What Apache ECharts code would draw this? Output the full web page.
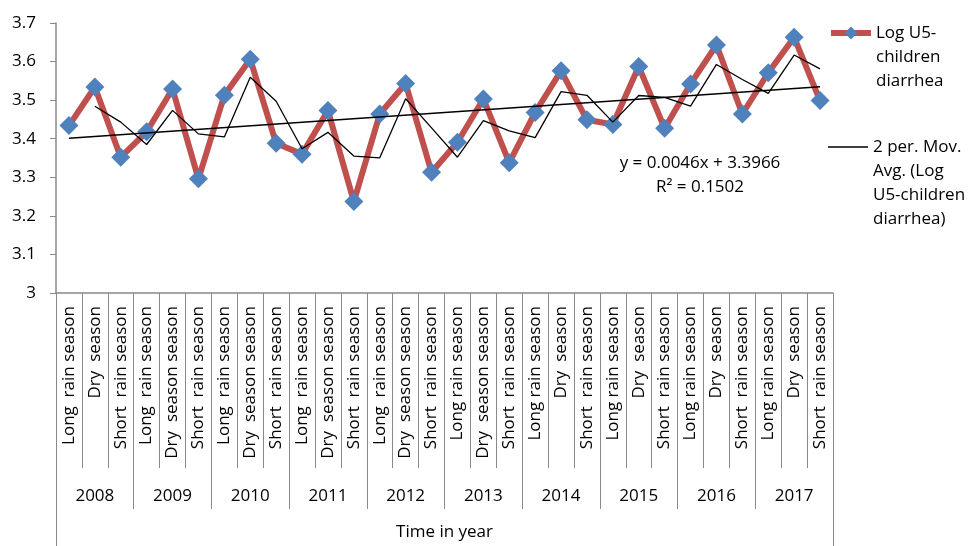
<!DOCTYPE html>
<html>
<head>
<meta charset="utf-8">
<script src="https://cdn.jsdelivr.net/npm/echarts@6/dist/echarts.min.js"></script>
<style>
  html, body { margin: 0; padding: 0; background: #fff; }
  #chart { width: 972px; height: 546px; }
</style>
</head>
<body>
<div id="chart"></div>
<script>
// season labels as they appear under the axis (spacing kept from the original)
var seasons = [
    'Long  rain season', 'Dry  season', 'Short  rain season',
    'Long  rain season', 'Dry  season season', 'Short  rain season',
    'Long  rain season', 'Dry  season season', 'Short  rain season',
    'Long  rain season', 'Dry  season season', 'Short  rain season',
    'Long  rain season', 'Dry  season season', 'Short  rain season',
    'Long rain season', 'Dry  season season', 'Short  rain season',
    'Long rain season', 'Dry  season', 'Short  rain season',
    'Long rain season', 'Dry  season', 'Short  rain season',
    'Long rain season', 'Dry  season', 'Short  rain season',
    'Long rain season', 'Dry  season', 'Short  rain season'
];
var years = ['2008', '2009', '2010', '2011', '2012', '2013', '2014', '2015', '2016', '2017'];

// log of under-5 children diarrhea cases, one value per season
var logU5 = [
    3.434, 3.534, 3.352,
    3.418, 3.529, 3.296,
    3.513, 3.606, 3.388,
    3.360, 3.473, 3.237,
    3.464, 3.543, 3.313,
    3.391, 3.503, 3.338,
    3.468, 3.576, 3.449,
    3.437, 3.587, 3.427,
    3.542, 3.643, 3.464,
    3.571, 3.663, 3.499
];

// linear trend as printed on the chart
var trendSlope = 0.0046;
var trendIntercept = 3.3966;
var trendR2 = 0.1502;

var serName = 'Log U5-children diarrhea';
var maName = '2 per. Mov. Avg. (Log U5-children diarrhea)';
var fontName = '"Open Sans", "Noto Sans", sans-serif';
var axisGray = '#898989';

// 2 period moving average (Excel style, first point empty)
var movAvg = [null];
for (var i = 1; i < logU5.length; i++) {
    movAvg.push(+((logU5[i - 1] + logU5[i]) / 2).toFixed(4));
}
// trend line only needs its two ends
var trendData = [];
for (var i = 0; i < logU5.length; i++) {
    if (i == 0 || i == logU5.length - 1) {
        trendData.push(+(trendSlope * (i + 1) + trendIntercept).toFixed(4));
    } else {
        trendData.push(null);
    }
}

var myChart = echarts.init(document.getElementById('chart'));
var option = {
    animation: false,
    backgroundColor: '#fff',
    textStyle: { fontFamily: fontName },
    grid: {
        left: 56,
        right: 139,
        top: 23,
        bottom: 253,
        containLabel: false,
        outerBoundsMode: 'none'
    },
    legend: [{
        data: [serName],
        orient: 'vertical',
        left: 828,
        top: -27,
        padding: 0,
        itemWidth: 40,
        itemHeight: 16,
        lineStyle: { width: 6, color: '#C0504D' },
        formatter: function () { return '\n\nLog U5-\nchildren\ndiarrhea'; },
        textStyle: { fontSize: 17, lineHeight: 24, color: '#000', fontFamily: fontName }
    }, {
        data: [{ name: maName, icon: 'rect' }],
        orient: 'vertical',
        left: 828,
        top: 63,
        padding: 0,
        itemWidth: 40,
        itemHeight: 1.5,
        formatter: function () { return '\n\n\n2 per. Mov.\nAvg. (Log\nU5-children\ndiarrhea)'; },
        textStyle: { fontSize: 17, lineHeight: 24, color: '#000', fontFamily: fontName }
    }],
    xAxis: [{
        // seasons
        type: 'category',
        position: 'bottom',
        data: seasons,
        boundaryGap: true,
        axisLine: { show: true, lineStyle: { color: axisGray, width: 1.5 } },
        axisTick: { show: true, interval: 0, length: 175, lineStyle: { color: axisGray } },
        axisLabel: {
            interval: 0,
            rotate: 90,
            margin: 13,
            fontSize: 17,
            color: '#000',
            fontFamily: fontName
        },
        splitLine: { show: false }
    }, {
        // years
        type: 'category',
        position: 'bottom',
        data: years,
        boundaryGap: true,
        axisLine: { show: false },
        axisTick: { show: true, interval: 0, length: 216, lineStyle: { color: axisGray } },
        axisLabel: {
            interval: 0,
            margin: 195,
            fontSize: 17,
            color: '#000',
            fontFamily: fontName
        },
        splitLine: { show: false }
    }, {
        // outer frame + axis title
        type: 'category',
        position: 'bottom',
        data: [''],
        boundaryGap: true,
        axisLine: { show: false },
        axisTick: { show: true, length: 253, lineStyle: { color: axisGray } },
        axisLabel: { show: false },
        name: 'Time in year',
        nameLocation: 'middle',
        nameGap: 231,
        nameTextStyle: { fontSize: 17, color: '#000', fontFamily: fontName },
        splitLine: { show: false }
    }],
    yAxis: {
        type: 'value',
        min: 3,
        max: 3.7,
        interval: 0.1,
        axisLine: { show: true, lineStyle: { color: axisGray, width: 1.5 } },
        axisTick: { show: true, length: 6, lineStyle: { color: axisGray } },
        axisLabel: {
            margin: 20,
            fontSize: 17,
            color: '#000',
            fontFamily: fontName,
            formatter: function (v) { return String(+v.toFixed(1)); }
        },
        splitLine: { show: false }
    },
    graphic: [{
        type: 'text',
        x: 700,
        y: 151,
        style: {
            text: 'y = ' + trendSlope + 'x + ' + trendIntercept + '\nR\u00b2 = ' + trendR2,
            align: 'center',
            verticalAlign: 'top',
            fontSize: 17,
            lineHeight: 24,
            fontFamily: fontName,
            fill: '#000'
        }
    }],
    series: [{
        name: serName,
        type: 'line',
        xAxisIndex: 0,
        data: logU5,
        symbol: 'diamond',
        symbolSize: 19,
        lineStyle: { color: '#C0504D', width: 6 },
        itemStyle: { color: '#4F81BD' },
        z: 2
    }, {
        name: maName,
        type: 'line',
        xAxisIndex: 0,
        data: movAvg,
        symbol: 'none',
        lineStyle: { color: '#000', width: 1.3 },
        itemStyle: { color: '#000' },
        z: 3
    }, {
        name: 'Linear (Log U5-children diarrhea)',
        type: 'line',
        xAxisIndex: 0,
        data: trendData,
        connectNulls: true,
        symbol: 'none',
        lineStyle: { color: '#000', width: 1.5 },
        itemStyle: { color: '#000' },
        z: 3
    }]
};
myChart.setOption(option);
</script>
</body>
</html>
